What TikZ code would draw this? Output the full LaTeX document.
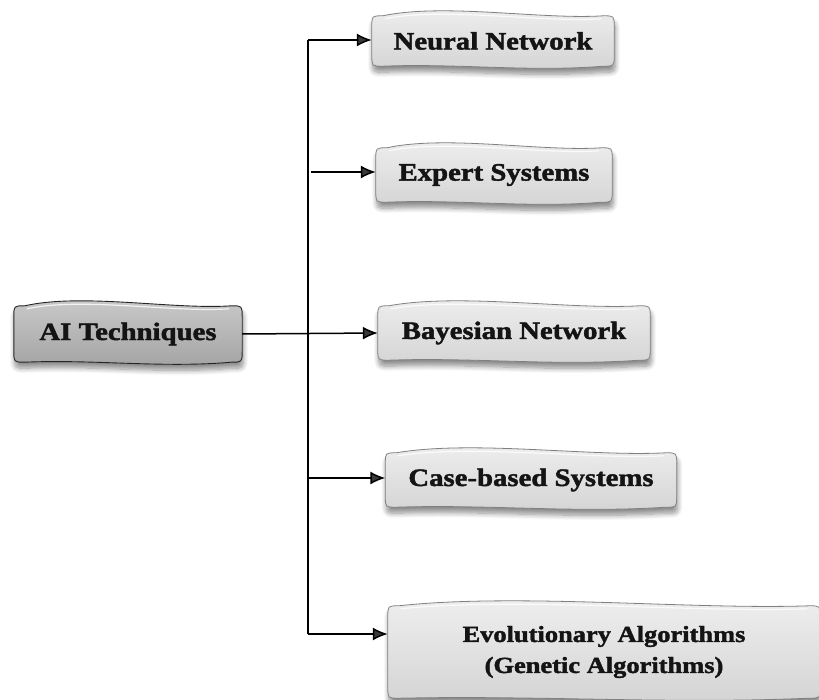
\documentclass[tikz,border=0pt]{standalone}
\usepackage{fontspec}
\setmainfont[FakeStretch=1.15, FakeBold=1.8]{Liberation Serif}
\usetikzlibrary{arrows.meta,calc,shadows.blur,backgrounds}

% wavy rounded outline drawn behind a named node, plus a top highlight
\newcommand\wavyoutline[2]{%
  \path[#2] let \p1=(#1.south west), \p2=(#1.north east) in
    (\x1,\y2-11pt) .. controls (\x1,\y2) .. (\x1+11pt,\y2)
    .. controls (\x1+0.3*\x2-0.3*\x1,\y2+13pt) and (\x1+0.7*\x2-0.7*\x1,\y2-4pt) .. (\x2-11pt,\y2)
    .. controls (\x2,\y2) .. (\x2,\y2-11pt)
    -- (\x2,\y1+11pt)
    .. controls (\x2,\y1) .. (\x2-11pt,\y1)
    .. controls (\x1+0.65*\x2-0.65*\x1,\y1-6pt) and (\x1+0.35*\x2-0.35*\x1,\y1+3pt) .. (\x1+11pt,\y1)
    .. controls (\x1,\y1) .. (\x1,\y1+11pt) -- cycle;
  \path[draw=white, opacity=0.8, line width=1.2pt] let \p1=(#1.south west), \p2=(#1.north east) in
    (\x1+13pt,\y2-3pt)
    .. controls (\x1+0.3*\x2-0.3*\x1,\y2+9pt) and (\x1+0.7*\x2-0.7*\x1,\y2-7pt) .. (\x2-13pt,\y2-3pt);
}

\tikzset{
  lbl/.style={font=\bfseries\fontsize{25}{30}\selectfont, align=center, inner sep=0pt, text=black!92},
  boxshadow/.style={blur shadow={shadow xshift=1pt, shadow yshift=-6pt, shadow opacity=45,
    shadow blur radius=5pt, shadow blur steps=8}},
  leafbox/.style={draw=black!50, line width=0.8pt, top color=gray!12, bottom color=gray!34, boxshadow},
  rootbox/.style={draw=black!85, line width=0.9pt, top color=gray!40, bottom color=gray!72, boxshadow},
  arr/.style={-{Latex[length=15pt,width=13pt]}, line width=1.5pt},
}

\begin{document}
\begin{tikzpicture}[x=1pt, y=-1pt]
  \useasboundingbox (0,0) rectangle (819,700);

  % labels
  \node[lbl, minimum width=228pt, minimum height=56pt] (ai) at (128,334) {AI Techniques};
  \node[lbl, minimum width=242pt, minimum height=50pt] (nn) at (493,41) {Neural Network};
  \node[lbl, minimum width=236pt, minimum height=54pt] (es) at (494,175) {Expert Systems};
  \node[lbl, minimum width=272pt, minimum height=54pt] (bn) at (514,333) {Bayesian Network};
  \node[lbl, minimum width=291pt, minimum height=54pt] (cb) at (531,480) {Case-based Systems};
  \node[lbl, font=\bfseries\fontsize{23}{31}\selectfont, minimum width=432pt, minimum height=92pt]
    (ea) at (604,652) {Evolutionary Algorithms\\(Genetic Algorithms)};

  % boxes behind the labels
  \begin{pgfonlayer}{background}
    \wavyoutline{ai}{rootbox}
    \wavyoutline{nn}{leafbox}
    \wavyoutline{es}{leafbox}
    \wavyoutline{bn}{leafbox}
    \wavyoutline{cb}{leafbox}
    \wavyoutline{ea}{leafbox}
  \end{pgfonlayer}

  % connectors
  \coordinate (trunktop) at (308,40);
  \coordinate (trunkbot) at (308,634);
  \draw[line width=1.5pt] (trunktop) -- (trunkbot);
  \draw[arr] (trunktop) -- (trunktop -| nn.west);
  \draw[arr] ([xshift=3pt]trunktop |- 0,172) -- (es.west |- 0,172);
  \draw[arr] (ai.east) -- (bn.west);
  \draw[arr] (trunktop |- 0,478) -- (cb.west |- 0,478);
  \draw[arr] (trunkbot) -- (trunkbot -| ea.west);
\end{tikzpicture}
\end{document}
